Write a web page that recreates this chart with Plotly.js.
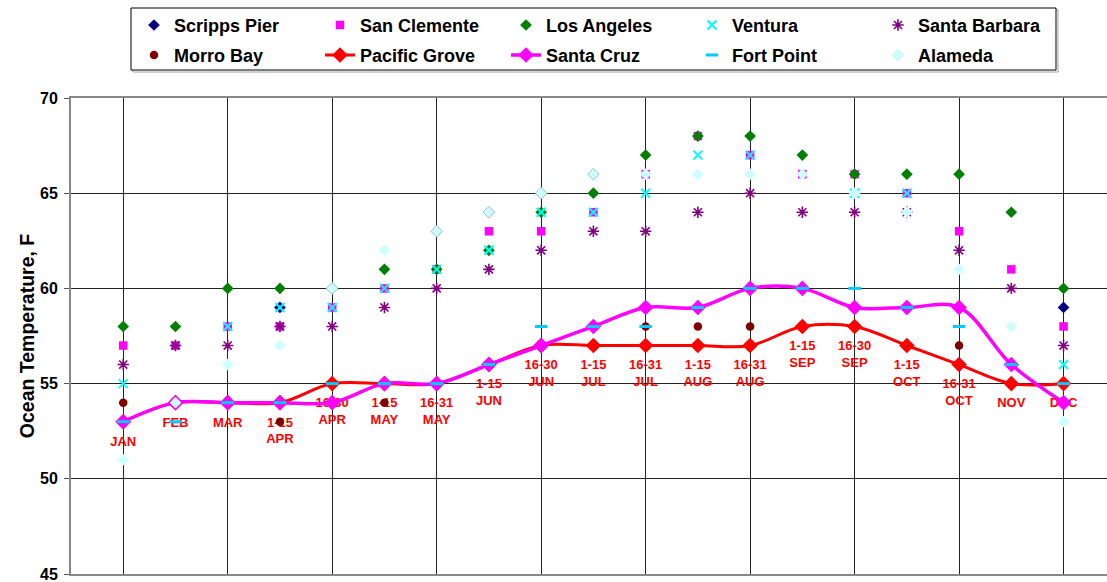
<!DOCTYPE html>
<html>
<head>
<meta charset="utf-8">
<script src="https://cdn.plot.ly/plotly-3.0.1.min.js"></script>
<style>
  html, body { margin: 0; padding: 0; background: #ffffff; }
  #chart { width: 1107px; height: 582px; }
</style>
</head>
<body>
<div id="chart"></div>
<script>
// Half-month sampling periods along the year (also used as the point labels)
const periods = ['JAN', 'FEB', 'MAR', '1-15<br>APR', '16-30<br>APR', '1-15<br>MAY', '16-31<br>MAY',
  '1-15<br>JUN', '16-30<br>JUN', '1-15<br>JUL', '16-31<br>JUL', '1-15<br>AUG', '16-31<br>AUG',
  '1-15<br>SEP', '16-30<br>SEP', '1-15<br>OCT', '16-31<br>OCT', 'NOV', 'DEC'];

// Mean ocean temperature (°F) per station and period
const scrippsPier  = [null, null, null, 59, null, null, null, null, null, null, null, null, null, null, null, null, null, null, 59];
const sanClemente  = [57, 57, 58, 58, 59, 60, 61, 63, 63, 64, 66, 68, 67, 66, 66, 65, 63, 61, 58];
const losAngeles   = [58, 58, 60, 60, null, 61, 61, 62, 64, 65, 67, 68, 68, 67, 66, 66, 66, 64, 60];
const ventura      = [55, null, 58, 59, 59, 60, 61, 62, 64, 64, 65, 67, 67, null, 65, 65, null, null, 56];
const santaBarbara = [56, 57, 57, 58, 58, 59, 60, 61, 62, 63, 63, 64, 65, 64, 64, 64, 62, 60, 57];
const morroBay     = [54, null, null, 53, null, 54, null, null, null, null, 58, 58, 58, null, null, null, 57, null, null];
const pacificGrove = [53, 54, 54, 54, 55, 55, 55, 56, 57, 57, 57, 57, 57, 58, 58, 57, 56, 55, 55];
const santaCruz    = [53, 54, 54, 54, 54, 55, 55, 56, 57, 58, 59, 59, 60, 60, 59, 59, 59, 56, 54];
const fortPoint    = [53, 53, 54, 54, 55, 55, 55, 56, 58, 58, 58, 59, 60, 60, 60, 59, 58, 56, 55];
const alameda      = [51, 54, 56, 57, 60, 62, 63, 64, 65, 66, 66, 66, 66, 66, 65, 64, 61, 58, 53];

// Tick values of the temperature axis
const tempTicks = [45, 50, 55, 60, 65, 70];

// Plot frame in pixels, used to place the legend box in paper units
const M = { l: 71, r: 0, t: 98, b: 8 };
const W = 1107, H = 582;
const plotW = W - M.l - M.r, plotH = H - M.t - M.b;
const px = v => (v - M.l) / plotW;
const py = v => (H - M.b - v) / plotH;

const FONT = '"Liberation Sans", Arial, sans-serif';

function pointSeries(name, y, marker, legend) {
  return { type: 'scatter', mode: 'markers', name, x: periods, y, marker,
           legend, hoverinfo: 'name+y', cliponaxis: false };
}

const traces = [
  // Period labels hung beneath the Pacific Grove points
  { type: 'scatter', mode: 'markers+text', x: periods, y: pacificGrove, text: periods,
    textposition: 'bottom center',
    textfont: { family: FONT, size: 13, color: '#FF0000', weight: 'bold' },
    marker: { size: 21, color: 'rgba(0,0,0,0)' },
    showlegend: false, hoverinfo: 'skip', cliponaxis: false },

  pointSeries('Scripps Pier', scrippsPier, { symbol: 'diamond', size: 9, color: '#000080' }, 'legend'),
  pointSeries('San Clemente', sanClemente, { symbol: 'square', size: 8.5, color: '#FF00FF' }, 'legend'),
  pointSeries('Los Angeles', losAngeles, { symbol: 'diamond', size: 9, color: '#008000' }, 'legend'),
  pointSeries('Ventura', ventura, { symbol: 'x-thin-open', size: 9, color: '#00FFFF', line: { color: '#00FFFF', width: 2 } }, 'legend'),
  pointSeries('Santa Barbara', santaBarbara, { symbol: 'asterisk-open', size: 9.5, color: '#800080', line: { color: '#800080', width: 1.6 } }, 'legend'),
  pointSeries('Morro Bay', morroBay, { symbol: 'circle', size: 8.5, color: '#800000' }, 'legend2'),

  { type: 'scatter', mode: 'lines+markers', name: 'Pacific Grove', x: periods, y: pacificGrove,
    line: { color: '#FF0000', width: 3, shape: 'spline', smoothing: 1 },
    marker: { symbol: 'diamond', size: 12, color: '#FF0000' },
    legend: 'legend2', cliponaxis: false },
  { type: 'scatter', mode: 'lines+markers', name: 'Santa Cruz', x: periods, y: santaCruz,
    line: { color: '#FF00FF', width: 3.5, shape: 'spline', smoothing: 1 },
    marker: { symbol: 'diamond', size: 12, color: '#FF00FF' },
    legend: 'legend2', cliponaxis: false },

  pointSeries('Fort Point', fortPoint, { symbol: 'line-ew', size: 9, color: '#00CCFF', line: { color: '#00CCFF', width: 3 } }, 'legend2'),
  pointSeries('Alameda', alameda, { symbol: 'diamond', size: 9, color: '#CCFFFF',
    line: { color: '#99BBCC', width: [0, 0, 0, 0, 1, 0, 1, 1, 1, 1, 0, 0, 0, 0, 0, 0, 0, 0, 0] } }, 'legend2')
];

const legendBase = {
  orientation: 'h', xanchor: 'left', yanchor: 'top', x: px(134),
  bgcolor: 'rgba(0,0,0,0)', borderwidth: 0,
  entrywidth: 141, entrywidthmode: 'pixels', traceorder: 'normal',
  itemclick: false, itemdoubleclick: false,
  font: { family: FONT, size: 18, color: '#000', weight: 'bold' }
};

const layout = {
  width: W, height: H,
  margin: { l: M.l, r: M.r, t: M.t, b: M.b, autoexpand: false },
  paper_bgcolor: '#ffffff', plot_bgcolor: '#ffffff',
  font: { family: FONT, color: '#000' },
  showlegend: true,
  legend: Object.assign({}, legendBase, { y: py(6.8) }),
  legend2: Object.assign({}, legendBase, { y: py(36.8) }),
  xaxis: {
    type: 'category', categoryorder: 'array', categoryarray: periods,
    range: [-1, (plotW / 52.24) - 1],
    tickmode: 'linear', tick0: 1, dtick: 2,
    showgrid: true, gridcolor: '#222222', gridwidth: 1,
    showticklabels: false, ticks: '',
    showline: true, linecolor: '#888888', linewidth: 2, mirror: true,
    zeroline: false, fixedrange: true
  },
  yaxis: {
    range: [45, 70], tickmode: 'array', tickvals: tempTicks, ticktext: tempTicks.map(String),
    showgrid: true, gridcolor: '#222222', gridwidth: 1,
    ticks: 'outside', ticklen: 5, tickwidth: 1, tickcolor: '#555555',
    ticklabelstandoff: 3, ticklabeloverflow: 'allow',
    showline: true, linecolor: '#888888', linewidth: 2,
    tickfont: { family: FONT, size: 16, color: '#000', weight: 'bold' },
    title: { text: 'Ocean Temperature, F', font: { family: FONT, size: 19.5, color: '#000', weight: 'bold' }, standoff: 0 },
    zeroline: false, fixedrange: true, automargin: false
  },
  shapes: [
    // soft shadow behind the legend frame
    { type: 'rect', xref: 'paper', yref: 'paper', x0: px(133), x1: px(1058), y0: py(72), y1: py(10),
      line: { color: '#A0A0A0', width: 1 }, fillcolor: 'rgba(0,0,0,0)' },
    // legend frame
    { type: 'rect', xref: 'paper', yref: 'paper', x0: px(131), x1: px(1056), y0: py(70), y1: py(8),
      line: { color: '#000000', width: 1 }, fillcolor: '#ffffff' }
  ]
};

Plotly.newPlot('chart', traces, layout, { displayModeBar: false, staticPlot: true });
</script>
</body>
</html>
